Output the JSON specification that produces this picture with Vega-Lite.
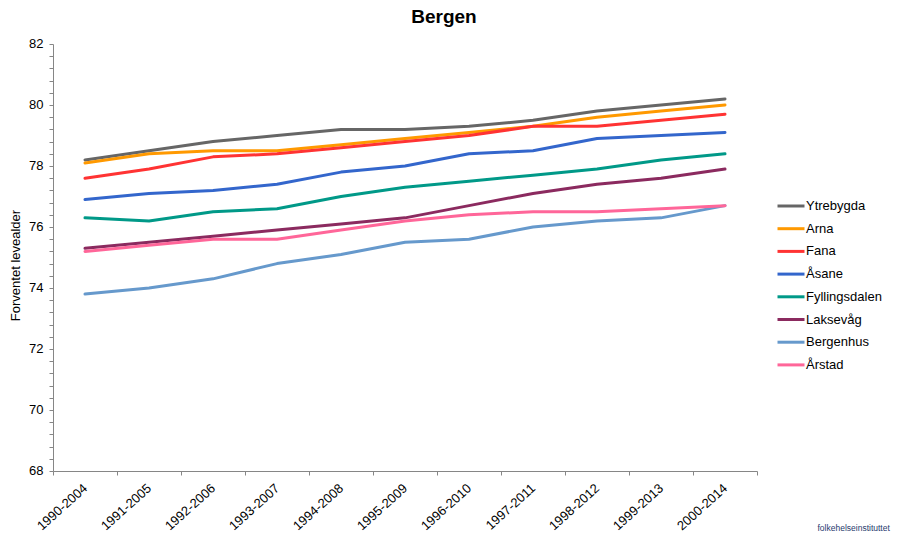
{
"$schema":"https://vega.github.io/schema/vega-lite/v6.json",
"width":704,"height":427,
"autosize":{"type":"none"},
"padding":{"left":53,"top":44,"right":150,"bottom":74},
"background":"white",
"title":{"text":"Bergen","font":"Liberation Sans","fontSize":19,"fontWeight":"bold","color":"#000000","anchor":"middle","dx":39,"offset":10},
"config":{"view":{"stroke":null}},
"data":{"values":[
{"p":"1990-2004","s":"Ytrebygda","v":78.2},{"p":"1991-2005","s":"Ytrebygda","v":78.5},{"p":"1992-2006","s":"Ytrebygda","v":78.8},{"p":"1993-2007","s":"Ytrebygda","v":79.0},{"p":"1994-2008","s":"Ytrebygda","v":79.2},{"p":"1995-2009","s":"Ytrebygda","v":79.2},{"p":"1996-2010","s":"Ytrebygda","v":79.3},{"p":"1997-2011","s":"Ytrebygda","v":79.5},{"p":"1998-2012","s":"Ytrebygda","v":79.8},{"p":"1999-2013","s":"Ytrebygda","v":80.0},{"p":"2000-2014","s":"Ytrebygda","v":80.2},
{"p":"1990-2004","s":"Arna","v":78.1},{"p":"1991-2005","s":"Arna","v":78.4},{"p":"1992-2006","s":"Arna","v":78.5},{"p":"1993-2007","s":"Arna","v":78.5},{"p":"1994-2008","s":"Arna","v":78.7},{"p":"1995-2009","s":"Arna","v":78.9},{"p":"1996-2010","s":"Arna","v":79.1},{"p":"1997-2011","s":"Arna","v":79.3},{"p":"1998-2012","s":"Arna","v":79.6},{"p":"1999-2013","s":"Arna","v":79.8},{"p":"2000-2014","s":"Arna","v":80.0},
{"p":"1990-2004","s":"Fana","v":77.6},{"p":"1991-2005","s":"Fana","v":77.9},{"p":"1992-2006","s":"Fana","v":78.3},{"p":"1993-2007","s":"Fana","v":78.4},{"p":"1994-2008","s":"Fana","v":78.6},{"p":"1995-2009","s":"Fana","v":78.8},{"p":"1996-2010","s":"Fana","v":79.0},{"p":"1997-2011","s":"Fana","v":79.3},{"p":"1998-2012","s":"Fana","v":79.3},{"p":"1999-2013","s":"Fana","v":79.5},{"p":"2000-2014","s":"Fana","v":79.7},
{"p":"1990-2004","s":"Åsane","v":76.9},{"p":"1991-2005","s":"Åsane","v":77.1},{"p":"1992-2006","s":"Åsane","v":77.2},{"p":"1993-2007","s":"Åsane","v":77.4},{"p":"1994-2008","s":"Åsane","v":77.8},{"p":"1995-2009","s":"Åsane","v":78.0},{"p":"1996-2010","s":"Åsane","v":78.4},{"p":"1997-2011","s":"Åsane","v":78.5},{"p":"1998-2012","s":"Åsane","v":78.9},{"p":"1999-2013","s":"Åsane","v":79.0},{"p":"2000-2014","s":"Åsane","v":79.1},
{"p":"1990-2004","s":"Fyllingsdalen","v":76.3},{"p":"1991-2005","s":"Fyllingsdalen","v":76.2},{"p":"1992-2006","s":"Fyllingsdalen","v":76.5},{"p":"1993-2007","s":"Fyllingsdalen","v":76.6},{"p":"1994-2008","s":"Fyllingsdalen","v":77.0},{"p":"1995-2009","s":"Fyllingsdalen","v":77.3},{"p":"1996-2010","s":"Fyllingsdalen","v":77.5},{"p":"1997-2011","s":"Fyllingsdalen","v":77.7},{"p":"1998-2012","s":"Fyllingsdalen","v":77.9},{"p":"1999-2013","s":"Fyllingsdalen","v":78.2},{"p":"2000-2014","s":"Fyllingsdalen","v":78.4},
{"p":"1990-2004","s":"Laksevåg","v":75.3},{"p":"1991-2005","s":"Laksevåg","v":75.5},{"p":"1992-2006","s":"Laksevåg","v":75.7},{"p":"1993-2007","s":"Laksevåg","v":75.9},{"p":"1994-2008","s":"Laksevåg","v":76.1},{"p":"1995-2009","s":"Laksevåg","v":76.3},{"p":"1996-2010","s":"Laksevåg","v":76.7},{"p":"1997-2011","s":"Laksevåg","v":77.1},{"p":"1998-2012","s":"Laksevåg","v":77.4},{"p":"1999-2013","s":"Laksevåg","v":77.6},{"p":"2000-2014","s":"Laksevåg","v":77.9},
{"p":"1990-2004","s":"Bergenhus","v":73.8},{"p":"1991-2005","s":"Bergenhus","v":74.0},{"p":"1992-2006","s":"Bergenhus","v":74.3},{"p":"1993-2007","s":"Bergenhus","v":74.8},{"p":"1994-2008","s":"Bergenhus","v":75.1},{"p":"1995-2009","s":"Bergenhus","v":75.5},{"p":"1996-2010","s":"Bergenhus","v":75.6},{"p":"1997-2011","s":"Bergenhus","v":76.0},{"p":"1998-2012","s":"Bergenhus","v":76.2},{"p":"1999-2013","s":"Bergenhus","v":76.3},{"p":"2000-2014","s":"Bergenhus","v":76.7},
{"p":"1990-2004","s":"Årstad","v":75.2},{"p":"1991-2005","s":"Årstad","v":75.4},{"p":"1992-2006","s":"Årstad","v":75.6},{"p":"1993-2007","s":"Årstad","v":75.6},{"p":"1994-2008","s":"Årstad","v":75.9},{"p":"1995-2009","s":"Årstad","v":76.2},{"p":"1996-2010","s":"Årstad","v":76.4},{"p":"1997-2011","s":"Årstad","v":76.5},{"p":"1998-2012","s":"Årstad","v":76.5},{"p":"1999-2013","s":"Årstad","v":76.6},{"p":"2000-2014","s":"Årstad","v":76.7}
]},
"mark":{"type":"line","strokeWidth":3,"interpolate":"linear","strokeCap":"round","strokeJoin":"round"},
"encoding":{
"x":{"field":"p","type":"nominal","sort":null,
"scale":{"type":"band","paddingInner":0,"paddingOuter":0},
"axis":{"title":"folkehelseinstituttet","titleFont":"Liberation Sans","titleFontSize":8.5,"titleFontWeight":"normal","titleColor":"#1f3a6e","titleX":764,"titleY":56,"titleBaseline":"middle","titleAnchor":"start","titleAlign":"left","tickBand":"extent","labelAngle":-42,"labelAlign":"right","labelBaseline":"middle","labelFont":"Liberation Sans","labelFontSize":13,"labelColor":"#000000","labelPadding":11,"labelOverlap":false,"domainColor":"#868686","tickColor":"#868686","tickSize":4,"grid":false}},
"y":{"field":"v","type":"quantitative",
"scale":{"domain":[68,82],"nice":false,"zero":false},
"axis":{"title":"Forventet levealder","titleFont":"Liberation Sans","titleFontSize":13,"titleFontWeight":"normal","titleColor":"#000000","titleX":-31,"titleY":221,"values":[68,68.4,68.8,69.2,69.6,70,70.4,70.8,71.2,71.6,72,72.4,72.8,73.2,73.6,74,74.4,74.8,75.2,75.6,76,76.4,76.8,77.2,77.6,78,78.4,78.8,79.2,79.6,80,80.4,80.8,81.2,81.6,82],"labelExpr":"abs(datum.value/2-round(datum.value/2))<0.01?format(datum.value,'d'):''","labelFont":"Liberation Sans","labelFontSize":13,"labelColor":"#000000","labelPadding":6,"labelOffset":-1,"labelOverlap":false,"labelFlush":false,"domainColor":"#868686","tickColor":"#868686","tickSize":4,"grid":false}},
"color":{"field":"s","type":"nominal","sort":null,
"scale":{"domain":["Ytrebygda","Arna","Fana","Åsane","Fyllingsdalen","Laksevåg","Bergenhus","Årstad"],"range":["#666666","#FF9900","#FF3333","#3366CC","#009988","#8B2A5F","#6699CC","#FF6699"]},
"legend":{"title":null,"orient":"none","legendX":723,"legendY":147,"symbolType":"stroke","symbolStrokeWidth":3,"symbolSize":729,"labelFont":"Liberation Sans","labelFontSize":13,"labelColor":"#000000","rowPadding":0.7,"labelOffset":0,"labelLimit":140}}
}
}
